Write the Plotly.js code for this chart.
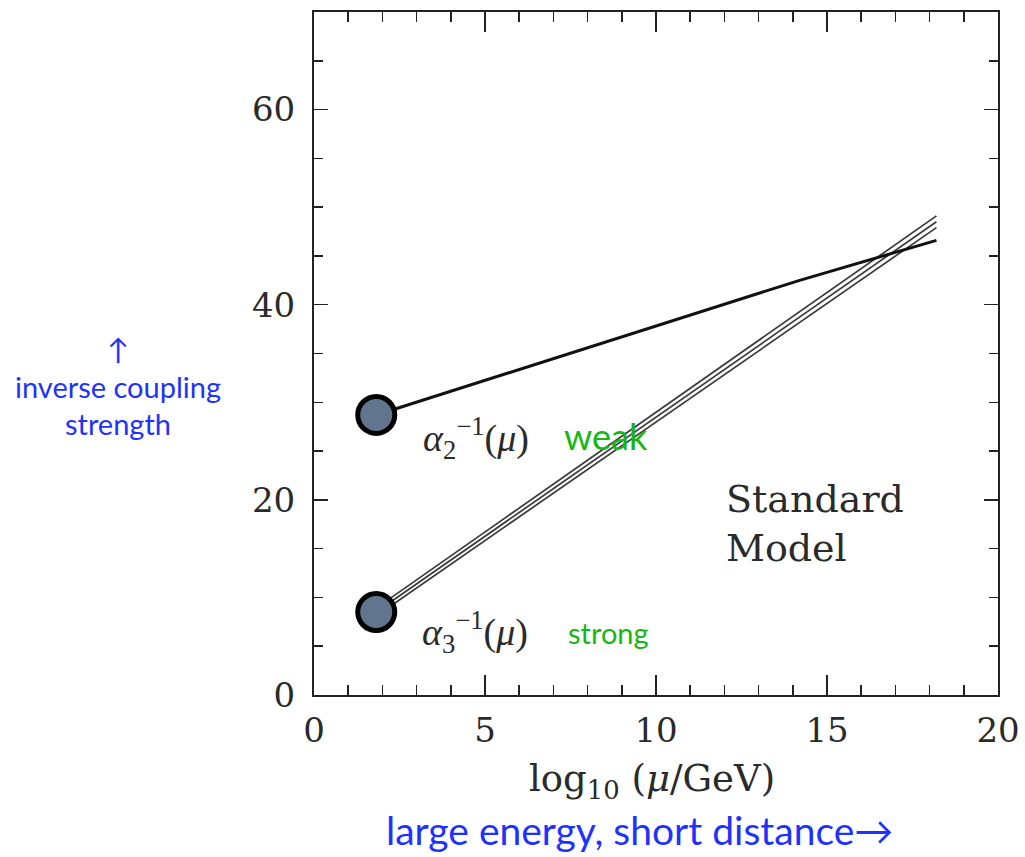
<!DOCTYPE html>
<html>
<head>
<meta charset="utf-8">
<script src="https://cdn.plot.ly/plotly-3.0.1.min.js"></script>
<style>html,body{margin:0;padding:0;background:#fff;}#chart{width:1025px;height:857px;}</style>
</head>
<body>
<div id="chart"></div>
<script>
// log10(mu/GeV) positions
const weakX = [1.82, 14.2, 18.2];
const weakY = [28.7, 42.5, 46.6];
const strongX = [1.82, 18.2];
const strongLow = [8.1, 47.9];
const strongMid = [8.5, 48.5];
const strongHigh = [8.9, 49.1];
const startX = [1.82, 1.82];
const startY = [28.7, 8.5];
const xTicks = [0, 5, 10, 15, 20];
const yTicks = [0, 20, 40, 60];

const serif = 'DejaVu Serif, serif';
const math = 'Liberation Serif, serif';
const sans = 'Lato, Open Sans, sans-serif';
const green = '#14b814';
const blue = '#1e32ff';
const ink = '#2a2a2a';

const traces = [
  {x: strongX, y: strongLow, mode: 'lines', line: {color: '#3a3a3a', width: 1.7}, hoverinfo: 'skip'},
  {x: strongX, y: strongMid, mode: 'lines', line: {color: '#3a3a3a', width: 1.7}, hoverinfo: 'skip'},
  {x: strongX, y: strongHigh, mode: 'lines', line: {color: '#3a3a3a', width: 1.7}, hoverinfo: 'skip'},
  {x: weakX, y: weakY, mode: 'lines', line: {color: '#111', width: 3}, hoverinfo: 'skip'},
  {x: startX, y: startY, mode: 'markers',
   marker: {size: 37, color: '#62758f', line: {color: '#000', width: 5}}, hoverinfo: 'skip'}
];

const axisCommon = {
  showgrid: false, zeroline: false, showline: true, mirror: 'ticks',
  linecolor: '#222', linewidth: 2, ticks: 'inside', tickcolor: '#222', tickwidth: 1.5,
  tickfont: {family: serif, size: 34, color: ink}
};

function note(x, y, ref, text, font, extra) {
  return Object.assign({x: x, y: y, xref: ref, yref: ref, showarrow: false,
    xanchor: 'center', yanchor: 'middle', text: text, font: font}, extra || {});
}

const layout = {
  width: 1025, height: 857,
  margin: {l: 314, r: 27, t: 12, b: 162},
  paper_bgcolor: '#fff', plot_bgcolor: '#fff',
  showlegend: false,
  xaxis: Object.assign({}, axisCommon, {
    range: [0, 20], tickvals: xTicks, ticktext: xTicks.map(String), ticklen: 20,
    minor: {dtick: 1, tick0: 0, ticks: 'inside', ticklen: 10, tickcolor: '#222', tickwidth: 1.5},
    ticklabelstandoff: 4
  }),
  yaxis: Object.assign({}, axisCommon, {
    range: [0, 70], tickvals: yTicks, ticktext: yTicks.map(String), ticklen: 14,
    minor: {dtick: 5, tick0: 0, ticks: 'inside', ticklen: 9, tickcolor: '#222', tickwidth: 1.5},
    ticklabelstandoff: 10
  }),
  annotations: [
    note(4.75, 26.3, 'x', '<i>α</i><sub>2</sub><sup>−1</sup>(<i>μ</i>)', {family: math, size: 38, color: ink}),
    note(4.7, 6.5, 'x', '<i>α</i><sub>3</sub><sup>−1</sup>(<i>μ</i>)', {family: math, size: 38, color: ink}),
    note(8.55, 26.5, 'x', 'weak', {family: sans, size: 36, color: green}),
    note(8.6, 6.45, 'x', 'strong', {family: sans, size: 29, color: green}),
    note(12.0, 17.6, 'x', 'Standard<br>Model', {family: serif, size: 38, color: ink}, {xanchor: 'left', align: 'left'}),
    note(0.494, -0.126, 'paper', 'log<sub>10</sub> (<i>μ</i>/GeV)', {family: serif, size: 37, color: ink}),
    note(0.4766, -0.198, 'paper', 'large energy, short distance→', {family: sans, size: 39, color: blue}),
    note(-0.2865, 0.452, 'paper', '↑<br>inverse coupling<br>strength', {family: sans, size: 29, color: blue})
  ]
};

Plotly.newPlot('chart', traces, layout, {displayModeBar: false, staticPlot: true});
</script>
</body>
</html>
